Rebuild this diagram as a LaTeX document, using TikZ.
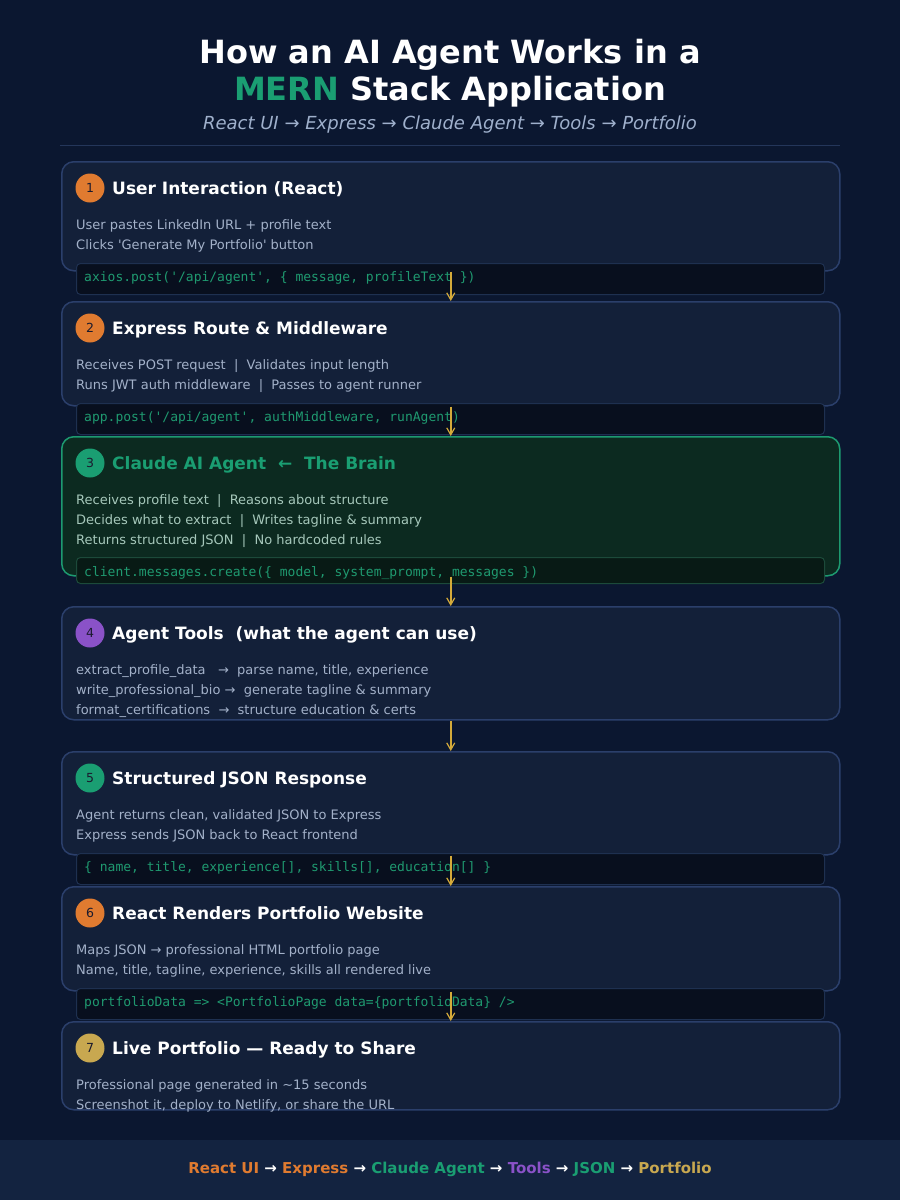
\documentclass[tikz,border=0pt]{standalone}
\usepackage{fontspec}
\newfontfamily\dv{DejaVu Sans}
\newfontfamily\dvm{DejaVu Sans Mono}
\usetikzlibrary{arrows.meta}
\definecolor{bg}{HTML}{0B1730}
\definecolor{boxfill}{HTML}{132039}
\definecolor{boxline}{HTML}{2B3F6B}
\definecolor{codefill}{HTML}{080F1E}
\definecolor{codeline}{HTML}{1E3050}
\definecolor{gfill}{HTML}{0C2A20}
\definecolor{gline}{HTML}{1D9A70}
\definecolor{gcodefill}{HTML}{081A15}
\definecolor{gcodeline}{HTML}{1C4A3A}
\definecolor{bodytxt}{HTML}{A3B1C9}
\definecolor{gbodytxt}{HTML}{A6C8BB}
\definecolor{codetxt}{HTML}{1F9A70}
\definecolor{corange}{HTML}{E07B30}
\definecolor{cgreen}{HTML}{1A9E72}
\definecolor{cpurple}{HTML}{8A52C8}
\definecolor{cgold}{HTML}{C8A850}
\definecolor{arrowc}{HTML}{D4AA3A}
\definecolor{footfill}{HTML}{132340}
\definecolor{sepline}{HTML}{24365A}
\definecolor{numtxt}{HTML}{1A1A2E}
\definecolor{subtxt}{HTML}{9FB0CC}
\tikzset{
  stagebox/.style={draw=boxline, fill=boxfill, line width=1.5pt, rounded corners=12pt, minimum width=778pt, anchor=north west, inner sep=0pt},
  greenbox/.style={stagebox, draw=gline, fill=gfill},
  codebox/.style={draw=codeline, fill=codefill, line width=1pt, rounded corners=4pt, minimum width=748pt, anchor=north west, inner sep=0pt},
  gcodebox/.style={codebox, draw=gcodeline, fill=gcodefill},
  numdot/.style={circle, minimum size=29pt, inner sep=0pt, font=\dv\fontsize{12.5}{14}\selectfont, text=numtxt},
  stitle/.style={anchor=base west, inner sep=0pt, text=white, font=\dv\bfseries\fontsize{17}{20}\selectfont},
  bodyline/.style={anchor=base west, inner sep=0pt, text=bodytxt, font=\dv\fontsize{13}{15}\selectfont},
  codeline/.style={anchor=base west, inner sep=0pt, text=codetxt, font=\dvm\fontsize{13}{15}\selectfont},
  flow/.style={draw=arrowc, line width=1.6pt, -{Straight Barb[length=7pt,width=8pt,line width=1.2pt]}},
}
\begin{document}
\begin{tikzpicture}[x=1pt,y=-1pt]
\fill[bg] (0,0) rectangle (900,1200);
\useasboundingbox (0,0) rectangle (900,1200);

% header
\node[anchor=base, inner sep=0pt, text=white, font=\dv\bfseries\fontsize{32}{36}\selectfont] (t1) at (450,63) {How an AI Agent Works in a};
\node[anchor=base, inner sep=0pt, text=white, font=\dv\bfseries\fontsize{32}{36}\selectfont] (t2) at (450,100) {\textcolor{cgreen}{MERN} Stack Application};
\node[anchor=base, inner sep=0pt, text=subtxt, font=\dv\itshape\fontsize{18}{21}\selectfont] (sub) at (450,129) {React UI → Express → Claude Agent → Tools → Portfolio};
\coordinate (sepL) at (60,145);
\coordinate (sepR) at (840,145);
\draw[sepline, line width=1pt] (sepL) -- (sepR);

% ---------- box 1
\node[stagebox, minimum height=109pt] (b1) at (61,161) {};
\node[numdot, fill=corange] (n1) at (90,188) {1};
\node[stitle] (h1) at (112,194) {User Interaction (React)};
\node[bodyline] (l1a) at (76,229) {User pastes LinkedIn URL + profile text};
\node[bodyline] (l1b) at (76,249) {Clicks 'Generate My Portfolio' button};
\node[codebox, minimum height=31pt] (c1) at (76,263) {};
\node[codeline] (ct1) at (84,281) {axios.post('/api/agent', \{ message, profileText \})};

% ---------- box 2
\node[stagebox, minimum height=104pt] (b2) at (61,301) {};
\node[numdot, fill=corange] (n2) at (90,328) {2};
\node[stitle] (h2) at (112,334) {Express Route \& Middleware};
\node[bodyline] (l2a) at (76,369) {Receives POST request \ | \ Validates input length};
\node[bodyline] (l2b) at (76,389) {Runs JWT auth middleware \ | \ Passes to agent runner};
\node[codebox, minimum height=31pt] (c2) at (76,403) {};
\node[codeline] (ct2) at (84,421) {app.post('/api/agent', authMiddleware, runAgent)};

% ---------- box 3
\node[greenbox, minimum height=139pt] (b3) at (61,436) {};
\node[numdot, fill=cgreen] (n3) at (90,463) {3};
\node[stitle, text=cgreen] (h3) at (112,469) {Claude AI Agent \ ← \ The Brain};
\node[bodyline, text=gbodytxt] (l3a) at (76,504) {Receives profile text \ | \ Reasons about structure};
\node[bodyline, text=gbodytxt] (l3b) at (76,524) {Decides what to extract \ | \ Writes tagline \& summary};
\node[bodyline, text=gbodytxt] (l3c) at (76,544) {Returns structured JSON \ | \ No hardcoded rules};
\node[gcodebox, minimum height=26pt] (c3) at (76,557) {};
\node[codeline] (ct3) at (84,576) {client.messages.create(\{ model, system\_prompt, messages \})};

% ---------- box 4
\node[stagebox, minimum height=113pt] (b4) at (61,606) {};
\node[numdot, fill=cpurple] (n4) at (90,633) {4};
\node[stitle] (h4) at (112,639) {Agent Tools \ (what the agent can use)};
\node[bodyline] (l4a) at (76,674) {extract\_profile\_data \ \ → \ parse name, title, experience};
\node[bodyline] (l4b) at (76,694) {write\_professional\_bio → \ generate tagline \& summary};
\node[bodyline] (l4c) at (76,714) {format\_certifications \ → \ structure education \& certs};

% ---------- box 5
\node[stagebox, minimum height=103pt] (b5) at (61,751) {};
\node[numdot, fill=cgreen] (n5) at (90,778) {5};
\node[stitle] (h5) at (112,784) {Structured JSON Response};
\node[bodyline] (l5a) at (76,819) {Agent returns clean, validated JSON to Express};
\node[bodyline] (l5b) at (76,839) {Express sends JSON back to React frontend};
\node[codebox, minimum height=31pt] (c5) at (76,853) {};
\node[codeline] (ct5) at (84,871) {\{ name, title, experience[], skills[], education[] \}};

% ---------- box 6
\node[stagebox, minimum height=104pt] (b6) at (61,886) {};
\node[numdot, fill=corange] (n6) at (90,913) {6};
\node[stitle] (h6) at (112,919) {React Renders Portfolio Website};
\node[bodyline] (l6a) at (76,954) {Maps JSON → professional HTML portfolio page};
\node[bodyline] (l6b) at (76,974) {Name, title, tagline, experience, skills all rendered live};
\node[codebox, minimum height=31pt] (c6) at (76,988) {};
\node[codeline] (ct6) at (84,1006) {portfolioData => <PortfolioPage data=\{portfolioData\} />};

% ---------- box 7
\node[stagebox, minimum height=88pt] (b7) at (61,1021) {};
\node[numdot, fill=cgold] (n7) at (90,1048) {7};
\node[stitle] (h7) at (112,1054) {Live Portfolio — Ready to Share};
\node[bodyline] (l7a) at (76,1089) {Professional page generated in \textasciitilde15 seconds};
\node[bodyline] (l7b) at (76,1109) {Screenshot it, deploy to Netlify, or share the URL};

% ---------- connectors
\draw[flow] (b1.south) -- (b2.north);
\draw[flow] (b2.south) -- (b3.north);
\draw[flow] (b3.south) -- (b4.north);
\draw[flow] (b4.south) -- (b5.north);
\draw[flow] (b5.south) -- (b6.north);
\draw[flow] (b6.south) -- (b7.north);

% ---------- footer
\node[fill=footfill, minimum width=900pt, minimum height=60pt, anchor=north west, inner sep=0pt] (foot) at (0,1140) {};
\node[anchor=base, inner sep=0pt, text=white, font=\dv\bfseries\fontsize{15}{18}\selectfont] (ft) at (450,1173)
 {\textcolor{corange}{React UI} → \textcolor{corange}{Express} → \textcolor{cgreen}{Claude Agent} → \textcolor{cpurple}{Tools} → \textcolor{cgreen}{JSON} → \textcolor{cgold}{Portfolio}};
\end{tikzpicture}
\end{document}
